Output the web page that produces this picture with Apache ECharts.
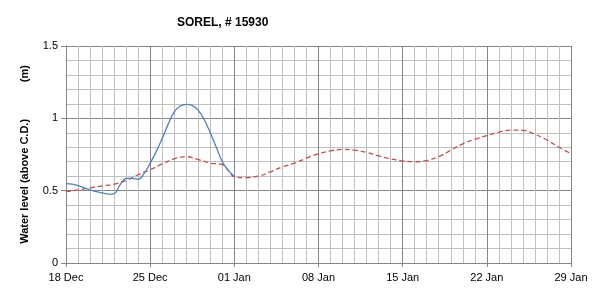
<!DOCTYPE html>
<html><head><meta charset="utf-8">
<script src="https://cdn.jsdelivr.net/npm/echarts@6/dist/echarts.min.js"></script>
<style>html,body{margin:0;padding:0;background:#fff}#c{width:605px;height:296px}</style>
</head><body><div id="c"></div>
<script>
var xTickLabels = ["18 Dec","25 Dec","01 Jan","08 Jan","15 Jan","22 Jan","29 Jan"];
var yTickLabels = ["0","0.5","1","1.5"];
// days since 18 Dec
var obsDays = [0,0.5,1,1.5,2,2.5,3,3.5,4,4.5,5,5.5,6,6.5,7,7.5,8,8.5,9,9.5,10,10.5,11,11.5,12,12.5,13,13.5,14];
var obsLevel = [0.548,0.545,0.535,0.52,0.505,0.493,0.485,0.476,0.48,0.54,0.585,0.585,0.578,0.62,0.69,0.77,0.86,0.96,1.045,1.085,1.097,1.09,1.055,0.99,0.9,0.8,0.70,0.64,0.598];
var predDays = [0,1,2,3,4,5,6,7,8,9,10,11,12,13,13.5,14,15,16,17,18,19,20,21,22,23,24,25,26,27,28,29,30,31,32,33,34,35,36,37,38,39,40,41,42];
var predLevel = [0.493,0.505,0.52,0.533,0.545,0.57,0.61,0.645,0.685,0.72,0.735,0.715,0.69,0.68,0.64,0.595,0.59,0.60,0.63,0.665,0.69,0.725,0.755,0.775,0.785,0.78,0.765,0.74,0.72,0.705,0.70,0.708,0.735,0.78,0.824,0.855,0.88,0.905,0.918,0.917,0.89,0.85,0.80,0.755];

function pairs(xs, ys){ return xs.map(function(x,i){return [x, ys[i]];}); }
var chart = echarts.init(document.getElementById('c'));
var fontFam = 'Liberation Sans, Arial, sans-serif';
chart.setOption({
  animation:false,
  title:{text:'SOREL, # 15930', left:172, top:12,
    textStyle:{fontSize:12, fontWeight:'bold', color:'#000', fontFamily:fontFam}},
  grid:{left:66, right:34, top:46, bottom:33},
  xAxis:{type:'value', min:0, max:42, interval:7,
    axisLine:{show:true, lineStyle:{color:'#868686', width:1}},
    axisTick:{show:true, length:4, lineStyle:{color:'#868686'}},
    axisLabel:{color:'#000', fontSize:11, fontFamily:fontFam, margin:9,
      formatter:function(v){ return xTickLabels[Math.round(v/7)]; }},
    splitLine:{show:true, lineStyle:{color:'#868686', width:1}},
    minorTick:{show:false, splitNumber:7},
    minorSplitLine:{show:true, lineStyle:{color:'#BFBFBF', width:1}}
  },
  yAxis:{type:'value', min:0, max:1.5, interval:0.5,
    name:'Water level (above C.D.)            (m)', nameLocation:'middle', nameGap:36,
    nameTextStyle:{fontSize:11, fontWeight:'bold', color:'#000', fontFamily:fontFam},
    axisLine:{show:true, lineStyle:{color:'#868686', width:1}},
    axisTick:{show:true, length:5, lineStyle:{color:'#868686'}},
    axisLabel:{color:'#000', fontSize:11, fontFamily:fontFam, margin:8,
      formatter:function(v){ return yTickLabels[Math.round(v/0.5)]; }},
    splitLine:{show:true, lineStyle:{color:'#868686', width:1}},
    minorTick:{show:false, splitNumber:5},
    minorSplitLine:{show:true, lineStyle:{color:'#BFBFBF', width:1}}
  },
  series:[
    {type:'line', data:pairs(predDays, predLevel), smooth:0.4, showSymbol:false,
      lineStyle:{color:'#C0504D', width:1.3, type:[5,3]}, z:2},
    {type:'line', data:pairs(obsDays, obsLevel), smooth:0.4, showSymbol:false,
      lineStyle:{color:'#4F81BD', width:1.3}, z:3}
  ]
});
</script></body></html>
